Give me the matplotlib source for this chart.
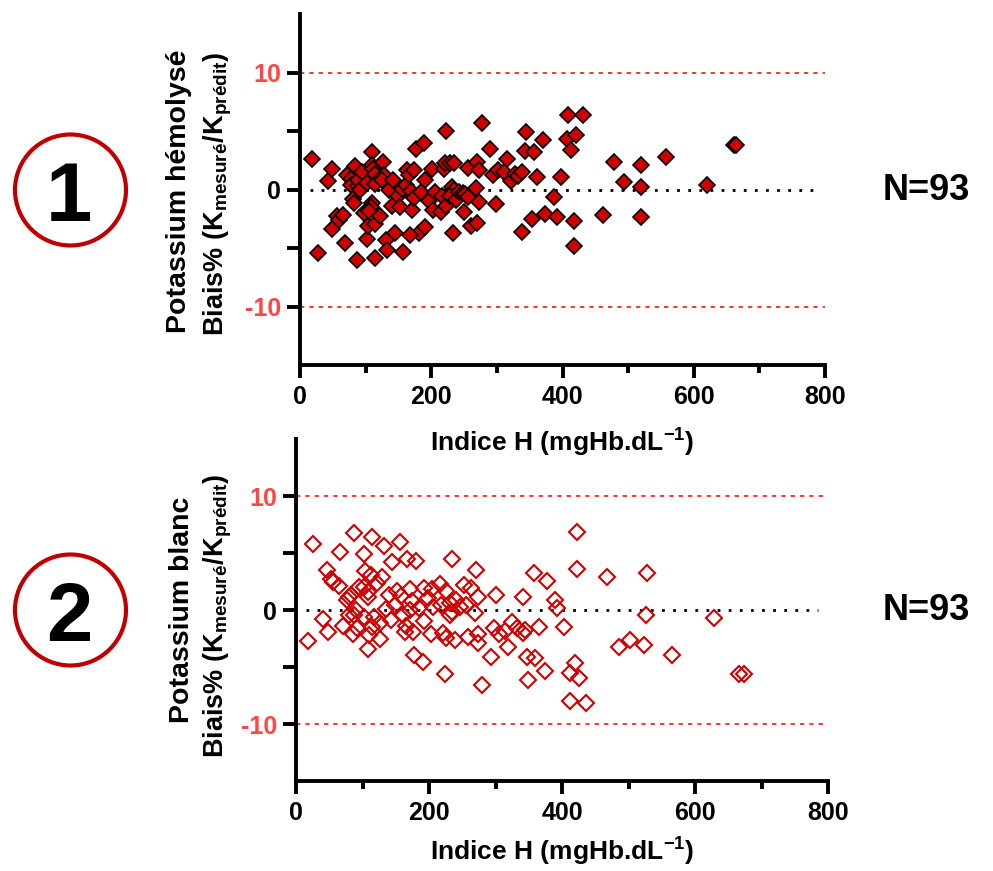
import matplotlib
matplotlib.use("Agg")
import matplotlib.pyplot as plt
from matplotlib.patches import Circle

plt.rcParams['font.family'] = ['Liberation Sans', 'DejaVu Sans']
plt.rcParams['font.weight'] = 'bold'
plt.rcParams['axes.labelweight'] = 'bold'
plt.rcParams['mathtext.fontset'] = 'custom'
plt.rcParams['mathtext.rm'] = 'Liberation Sans:bold'
plt.rcParams['mathtext.bf'] = 'Liberation Sans:bold'
plt.rcParams['mathtext.it'] = 'Liberation Sans:bold'
plt.rcParams['mathtext.default'] = 'bf'

# --- data (Indice H, Biais %) ---
top_x = [19, 28, 43, 49, 48, 56, 59, 66, 68, 71, 77, 78, 84, 87, 88, 89, 91, 81, 83, 95,
         97, 102, 104, 102, 109, 110, 111, 114, 115, 109, 108, 105, 114, 115, 122, 126, 128, 125, 131, 133,
         135, 140, 141, 144, 149, 152, 156, 157, 161, 163, 166, 169, 171, 174, 174, 177, 181, 168, 184, 189,
         191, 191, 196, 201, 202, 205, 216, 215, 219, 222, 222, 221, 228, 235, 232, 235, 229, 233, 237, 242,
         248, 252, 256, 256, 250, 260, 268, 269, 270, 273, 272, 278, 289, 294, 298, 302, 311, 315, 321, 328,
         332, 338, 338, 343, 345, 354, 356, 361, 370, 373, 387, 391, 398, 408, 431, 407, 420, 413, 418, 418,
         461, 479, 493, 519, 520, 520, 557, 620, 661, 665]
top_y = [2.65, -5.41, 0.77, 1.77, -3.36, -2.28, -2.56, -2.14, -4.6, 1.28, 0.9, 0.37, 2.0, -5.98, 0.34, 0.85, -0.06, -0.8, -1.14, 1.48,
         -2.0, -4.2, -3.13, 0.57, 3.22, 2.1, 1.77, 1.37, 0.48, -1.14, -1.48, -1.85, -2.9, -5.84, -2.28, 2.36, 1.28, 0.85, -4.27, -5.13,
         -0.06, -1.37, 0.8, -3.7, -0.51, -1.48, 0.06, -5.36, 0.43, 1.65, 1.28, -0.14, -1.71, 1.71, -0.71, 3.5, -3.7, -3.85, -0.23, 3.99,
         0.85, -3.22, -1.0, 1.77, -1.71, -0.23, -0.51, -1.94, 1.77, 4.99, -1.42, 2.28, 2.28, 2.28, 0.23, 0.0, -0.57, -3.7, -0.85, -0.23,
         -0.28, -0.37, 1.9, -0.63, -1.9, -3.13, 0.14, -2.85, 2.4, 1.71, -1.05, 5.7, 3.48, 1.28, -1.22, 1.71, 1.48, 2.65, 0.77, 1.34,
         1.14, 1.51, -3.65, 3.33, 4.93, -2.48, 3.22, 1.05, 4.27, -2.08, -0.63, -2.36, 1.08, 6.41, 6.41, 4.36, 4.7, 3.36, -2.7, -4.79,
         -2.17, 2.34, 0.68, 2.14, 0.23, -2.34, 2.79, 0.43, 3.79, 3.79]

bot_x = [18, 26, 41, 46, 48, 52, 55, 65, 66, 70, 77, 80, 82, 79, 85, 87, 87, 90, 92, 95,
         103, 104, 102, 103, 108, 108, 109, 110, 113, 115, 115, 117, 122, 127, 127, 130, 133, 135, 140, 143,
         144, 149, 152, 157, 158, 161, 164, 166, 167, 171, 171, 174, 176, 177, 181, 185, 191, 192, 193, 198,
         203, 205, 206, 216, 218, 221, 224, 225, 226, 231, 231, 234, 235, 239, 241, 247, 252, 255, 258, 263,
         269, 271, 274, 274, 273, 280, 293, 297, 301, 305, 315, 319, 325, 332, 342, 345, 342, 348, 349, 358,
         360, 365, 374, 377, 390, 393, 423, 423, 467, 528, 403, 527, 629, 486, 502, 523, 565, 419, 412, 425,
         412, 436, 666, 673]
bot_y = [-2.72, 5.79, -0.82, 3.51, -1.9, 2.69, 2.49, 2.13, 5.12, -1.37, 0.88, 1.17, 1.32, -0.44, -2.1, 6.78, -0.44, 0.0, -1.61, 1.99,
         4.88, 3.45, 2.05, -0.58, -3.45, 1.11, 1.6, -2.19, 3.07, 6.37, -1.46, -0.58, 2.34, -1.11, -2.57, 2.87, 5.61, 0.06, 1.32, -0.88,
         4.24, 0.44, 1.67, 5.99, 1.23, -0.44, -1.9, -1.4, 4.44, 1.81, 0.0, 0.79, -1.9, -3.95, 4.3, 0.15, -4.53, -0.96, 1.9, 1.02,
         -2.1, 1.81, 0.23, 2.25, 0.44, -2.05, -5.64, 1.7, -2.49, 0.58, -0.44, 4.44, -0.15, -2.63, 0.88, 0.29, 2.19, 0.44, -2.34, 1.9,
         -0.29, 3.51, 1.11, -2.1, -2.92, -6.58, -4.09, -1.61, 1.32, -2.1, -1.81, -3.27, -1.02, -1.61, -1.99, -1.75, 1.17, -4.09, -6.14, 3.22,
         -4.24, -1.46, -5.35, 2.57, 0.88, 0.15, 6.81, 3.6, 2.87, 3.22, -1.46, -0.47, -0.73, -3.22, -2.63, -3.07, -3.95, -4.68, -5.5, -5.99,
         -7.95, -8.19, -5.64, -5.64]

x_major = [0, 200, 400, 600, 800]
x_minor = [100, 300, 500, 700]
y_ticks = [-10, -5, 0, 5, 10]
y_labels = ['-10', '', '0', '', '10']
limits = [-10, 10]
panel_names = ['Potassium hémolysé', 'Potassium blanc']
panel_nums = ['1', '2']
n_text = 'N=93'

RED_LINE = '#FF3333'
RED_LAB = '#FF4545'
MARK_RED = '#D00000'
CIRCLE_RED = '#C00000'

W, H = 993, 871
fig = plt.figure(figsize=(W / 100, H / 100), dpi=100)


def px_axes(left, right, top, bottom):
    return fig.add_axes([left / W, 1 - bottom / H, (right - left) / W, (bottom - top) / H])


def style(ax, pad):
    ax.set_facecolor('none')
    ax.set_xlim(0, 800)
    ax.set_ylim(-15, 15)
    for s in ['top', 'right']:
        ax.spines[s].set_visible(False)
    for s in ['left', 'bottom']:
        ax.spines[s].set_linewidth(2.8)
    ax.set_xticks(x_major)
    ax.set_xticks(x_minor, minor=True)
    ax.set_yticks(y_ticks, labels=y_labels)
    ax.tick_params(which='major', length=9.5, width=2.8, labelsize=18)
    ax.tick_params(axis='x', which='minor', length=6, width=2.8)
    ax.tick_params(axis='x', pad=5)
    ax.tick_params(axis='y', pad=4)
    for lab in ax.get_yticklabels():
        if lab.get_text() in ('10', '-10'):
            lab.set_color(RED_LAB)
    for v in limits:
        ax.axhline(v, color=RED_LINE, lw=1.4, ls=(0, (2.2, 2.6)), zorder=1)
    ax.hlines(0, 15, 785, color='black', lw=2.0, ls=(0, (1, 3)), zorder=1)
    ax.set_xlabel('Indice H (mgHb.dL$^{-1}$)', fontsize=19, labelpad=pad)


ax1 = px_axes(300, 825, 14.5, 365)
style(ax1, 13)
ax1.plot(top_x, top_y, ls='none', marker='D', ms=8, mfc=MARK_RED, mec='black', mew=1.2, zorder=3)

ax2 = px_axes(296, 828, 439, 781)
style(ax2, 8)
ax2.plot(bot_x, bot_y, ls='none', marker='D', ms=8, mfc='none', mec=MARK_RED, mew=1.5, zorder=3)

# y labels (two lines each)
sub = 'Biais% (K$_{mesuré}$/K$_{prédit}$)'
fig.text(179 / W, 1 - 191 / H, panel_names[0], rotation=90, ha='center', va='center', fontsize=20.5)
fig.text(218 / W, 1 - 194 / H, sub, rotation=90, ha='center', va='center', fontsize=19.5)
fig.text(182 / W, 1 - 610 / H, panel_names[1], rotation=90, ha='center', va='center', fontsize=20.5)
fig.text(218 / W, 1 - 616 / H, sub, rotation=90, ha='center', va='center', fontsize=19.5)

# N labels
fig.text(926 / W, 1 - 190 / H, n_text, ha='center', va='center', fontsize=26)
fig.text(926 / W, 1 - 610 / H, n_text, ha='center', va='center', fontsize=26)

# numbered circles
ov = fig.add_axes([0, 0, 1, 1], zorder=-1)
ov.set_xlim(0, W)
ov.set_ylim(H, 0)
ov.axis('off')
for cy, num in zip([190, 610], panel_nums):
    ov.add_patch(Circle((70.5, cy), 55.5, fill=False, ec=CIRCLE_RED, lw=3))
    ov.text(69, cy + 31, num, ha='center', va='baseline', fontsize=60)

fig.savefig('out.png', dpi=100)
